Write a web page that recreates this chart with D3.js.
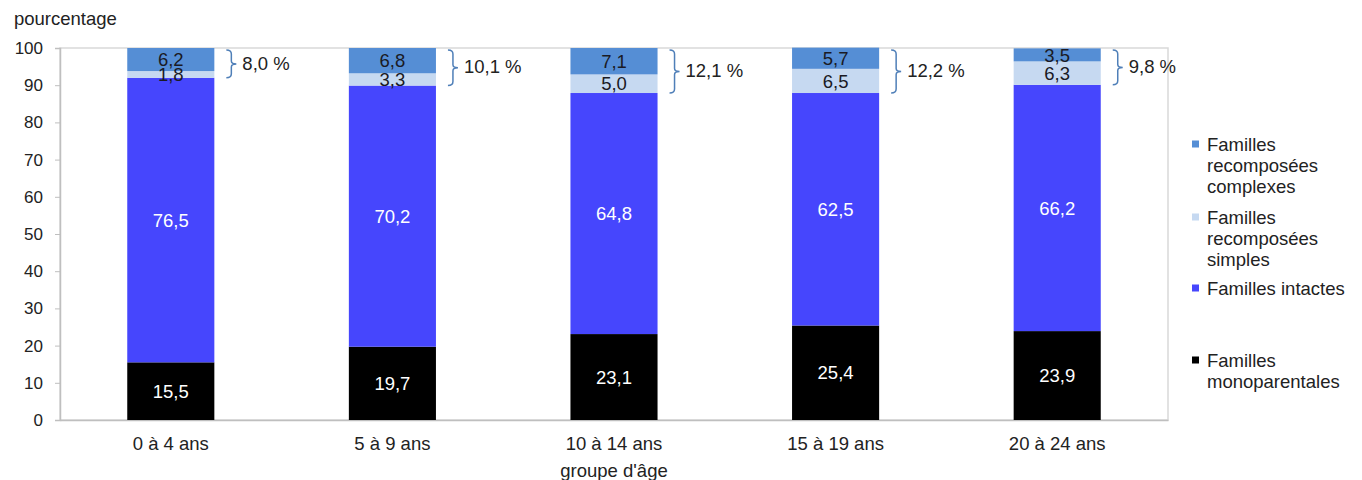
<!DOCTYPE html>
<html>
<head>
<meta charset="utf-8">
<script src="https://cdn.jsdelivr.net/npm/d3@7"></script>
<style>
  body { margin: 0; background: #fff; }
  svg text { font-family: "Liberation Sans", Arial, sans-serif; }
</style>
</head>
<body>
<div id="chart"></div>
<script>
// categories and series
var ageGroups = ["0 à 4 ans", "5 à 9 ans", "10 à 14 ans", "15 à 19 ans", "20 à 24 ans"];
var monoparentales = [15.5, 19.7, 23.1, 25.4, 23.9];
var intactes = [76.5, 70.2, 64.8, 62.5, 66.2];
var recompSimples = [1.8, 3.3, 5.0, 6.5, 6.3];
var recompComplexes = [6.2, 6.8, 7.1, 5.7, 3.5];
var recompTotals = ["8,0 %", "10,1 %", "12,1 %", "12,2 %", "9,8 %"];
var yTicks = [0, 10, 20, 30, 40, 50, 60, 70, 80, 90, 100];

var svgWidth = 1362;
var svgHeight = 480;
var margin = { top: 48, right: 194, bottom: 60, left: 60 };
var width = svgWidth - margin.left - margin.right;
var height = svgHeight - margin.top - margin.bottom;
var fontSize = 18.5;

var keys = ["mono", "intactes", "simples", "complexes"];
var colors = { mono: "#000000", intactes: "#4646fd", simples: "#c6d9f1", complexes: "#558ed5" };
var labelColors = { mono: "#ffffff", intactes: "#ffffff", simples: "#1a1a24", complexes: "#1a1a24" };

var table = ageGroups.map(function(g, i) {
  return { group: g, mono: monoparentales[i], intactes: intactes[i],
           simples: recompSimples[i], complexes: recompComplexes[i], total: recompTotals[i] };
});

var svg = d3.select("#chart")
  .append("svg")
  .attr("width", svgWidth)
  .attr("height", svgHeight);

var chartGroup = svg.append("g")
  .attr("transform", `translate(${margin.left}, ${margin.top})`);

var x = d3.scaleBand()
  .domain(ageGroups)
  .range([0, width])
  .paddingInner(0.607)
  .paddingOuter(0.3035);

var y = d3.scaleLinear()
  .domain([0, 100])
  .range([height, 0]);

// plot border
chartGroup.append("rect")
  .attr("x", 0).attr("y", 0)
  .attr("width", width).attr("height", height)
  .attr("fill", "none")
  .attr("stroke", "#d9d9d9")
  .attr("stroke-width", 1.5);

// axes
var leftAxis = d3.axisLeft(y).tickValues(yTicks).tickSize(5).tickPadding(12);
var yAxisG = chartGroup.append("g").call(leftAxis);
yAxisG.select(".domain").attr("stroke", "#bfbfbf").attr("stroke-width", 1.5);
yAxisG.selectAll(".tick line").attr("stroke", "#bfbfbf");
yAxisG.selectAll("text").attr("font-size", 17).attr("fill", "#222")
  .style("font-family", "'Liberation Sans', Arial, sans-serif");

var bottomAxis = d3.axisBottom(x).tickSize(0).tickPadding(17);
var xAxisG = chartGroup.append("g")
  .attr("transform", `translate(0, ${height})`)
  .call(bottomAxis);
xAxisG.select(".domain").attr("stroke", "#bfbfbf").attr("stroke-width", 1.5);
xAxisG.selectAll("text").attr("font-size", fontSize).attr("fill", "#222")
  .style("font-family", "'Liberation Sans', Arial, sans-serif");

// stacked bars
var stack = d3.stack().keys(keys);
var series = stack(table);

var layers = chartGroup.selectAll(".layer")
  .data(series)
  .enter()
  .append("g")
  .attr("class", "layer")
  .attr("fill", d => colors[d.key]);

layers.selectAll("rect")
  .data(d => d)
  .enter()
  .append("rect")
  .attr("x", d => x(d.data.group))
  .attr("y", d => y(d[1]))
  .attr("width", x.bandwidth())
  .attr("height", d => y(d[0]) - y(d[1]));

// segment labels
series.forEach(function(s) {
  chartGroup.selectAll(".lbl-" + s.key)
    .data(s)
    .enter()
    .append("text")
    .attr("x", d => x(d.data.group) + x.bandwidth() / 2)
    .attr("y", d => y((d[0] + d[1]) / 2))
    .attr("dy", "0.36em")
    .attr("text-anchor", "middle")
    .attr("font-size", fontSize)
    .attr("fill", labelColors[s.key])
    .text(d => d3.format(".1f")(d.data[s.key]).replace(".", ","));
});

// braces for recomposed families
var braces = chartGroup.selectAll(".brace")
  .data(table)
  .enter()
  .append("g")
  .attr("class", "brace");

braces.append("path")
  .attr("fill", "none")
  .attr("stroke", "#4f7fb8")
  .attr("stroke-width", 1.5)
  .attr("d", function(d) {
    var bx = x(d.group) + x.bandwidth() + 12;
    var top = y(100) + 2;
    var bot = y(d.mono + d.intactes);
    var mid = (top + bot) / 2;
    return `M${bx},${top} Q${bx + 5},${top} ${bx + 5},${top + 4} V${mid - 3} Q${bx + 5},${mid} ${bx + 10},${mid}` +
           ` Q${bx + 5},${mid} ${bx + 5},${mid + 3} V${bot - 4} Q${bx + 5},${bot} ${bx},${bot}`;
  });

braces.append("text")
  .attr("x", d => x(d.group) + x.bandwidth() + 28)
  .attr("y", d => (y(100) + y(d.mono + d.intactes)) / 2)
  .attr("dy", "0.36em")
  .attr("font-size", fontSize)
  .attr("fill", "#222")
  .text(d => d.total);

// axis titles
svg.append("text")
  .attr("x", 14)
  .attr("y", 25)
  .attr("font-size", fontSize)
  .attr("fill", "#222")
  .text("pourcentage");

svg.append("text")
  .attr("x", margin.left + width / 2)
  .attr("y", 477)
  .attr("text-anchor", "middle")
  .attr("font-size", fontSize)
  .attr("fill", "#222")
  .text("groupe d'âge");

// legend
var legendItems = [
  { key: "complexes", lines: ["Familles", "recomposées", "complexes"], y: 144 },
  { key: "simples", lines: ["Familles", "recomposées", "simples"], y: 217 },
  { key: "intactes", lines: ["Familles intactes"], y: 288 },
  { key: "mono", lines: ["Familles", "monoparentales"], y: 360 }
];

var legend = svg.append("g")
  .attr("transform", "translate(1192, 0)");

var li = legend.selectAll(".legend-item")
  .data(legendItems)
  .enter()
  .append("g")
  .attr("class", "legend-item")
  .attr("transform", d => `translate(0, ${d.y})`);

li.append("rect")
  .attr("x", 0)
  .attr("y", -3.5)
  .attr("width", 7)
  .attr("height", 7)
  .attr("fill", d => colors[d.key]);

li.append("text")
  .attr("x", 15)
  .attr("font-size", fontSize)
  .attr("fill", "#222")
  .selectAll("tspan")
  .data(d => d.lines)
  .enter()
  .append("tspan")
  .attr("x", 15)
  .attr("dy", (d, i) => i === 0 ? "0.36em" : "21")
  .text(d => d);
</script>
</body>
</html>
